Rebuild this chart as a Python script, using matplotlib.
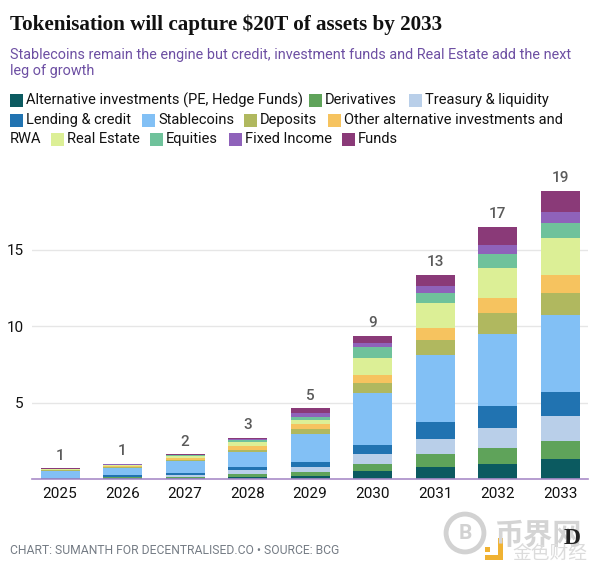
# encoding:utf-8
import numpy as np
import matplotlib.pyplot as plt
from matplotlib.patches import Rectangle, Circle

plt.rcParams['font.family'] = ['Roboto', 'Noto Sans CJK SC', 'DejaVu Sans']

years = ['2025', '2026', '2027', '2028', '2029', '2030', '2031', '2032', '2033']
totals = ['1', '1', '2', '3', '5', '9', '13', '17', '19']

alternative = [0.01, 0.06, 0.07, 0.12, 0.20, 0.54, 0.80, 1.00, 1.30]
derivatives = [0.01, 0.04, 0.07, 0.20, 0.26, 0.46, 0.83, 1.03, 1.20]
treasury = [0.01, 0.06, 0.09, 0.24, 0.33, 0.61, 0.98, 1.30, 1.60]
lending = [0.02, 0.07, 0.13, 0.24, 0.33, 0.61, 1.09, 1.44, 1.60]
stablecoins = [0.48, 0.48, 0.83, 0.98, 1.81, 3.38, 4.40, 4.73, 5.00]
deposits = [0.03, 0.06, 0.08, 0.10, 0.35, 0.69, 0.98, 1.35, 1.45]
other_alt = [0.04, 0.08, 0.12, 0.28, 0.31, 0.50, 0.78, 0.98, 1.20]
real_estate = [0.03, 0.06, 0.10, 0.24, 0.26, 1.13, 1.63, 1.98, 2.40]
equities = [0.02, 0.03, 0.05, 0.13, 0.20, 0.68, 0.67, 0.90, 1.00]
fixed_income = [0.02, 0.03, 0.04, 0.09, 0.28, 0.30, 0.44, 0.60, 0.72]
funds = [0.03, 0.04, 0.05, 0.09, 0.28, 0.46, 0.76, 1.18, 1.35]

series = [alternative, derivatives, treasury, lending, stablecoins, deposits,
          other_alt, real_estate, equities, fixed_income, funds]
colors = ['#0b5a60', '#5fa35a', '#b9cfe9', '#2173b1', '#82c0f5', '#b0b85f',
          '#f6c35f', '#dcef96', '#6fc29b', '#8f62ba', '#8a3a78']

W, H = 600, 571
fig = plt.figure(figsize=(W / 100, H / 100), dpi=100)


def put(px, py, s, **kw):
    kw.setdefault('va', 'center')
    return fig.text(px / W, 1 - py / H, s, **kw)


def box(px, py, w, h, color, **kw):
    fig.add_artist(Rectangle((px / W, 1 - (py + h) / H), w / W, h / H, color=color,
                             transform=fig.transFigure, lw=0, **kw))


# plot area, 15.3 px per unit
ax = fig.add_axes([32 / W, 1 - 479 / H, 556 / W, 309 / H])
x = np.arange(len(years))
bottom = np.zeros(len(years))
for vals, c in zip(series, colors):
    ax.bar(x, vals, 0.624, bottom=bottom, color=c, zorder=3)
    bottom += np.array(vals)
for xi, top, t in zip(x, bottom, totals):
    ax.annotate(t, (xi, top), xytext=(0, 4), textcoords='offset points', ha='center',
                va='bottom', fontsize=11, color='#5a5a5a', fontweight='medium')

ax.set_xlim(-0.448, 8.448)
ax.set_ylim(0, 309 / 15.3)
ax.set_xticks(x, years)
ax.set_yticks([5, 10, 15])
ax.tick_params(length=0, labelsize=11, labelcolor='#111111')
ax.tick_params(axis='x', pad=6)
ax.tick_params(axis='y', pad=6)
ax.grid(axis='y', color='#e6e6e6', lw=1, zorder=0)
for s in ['top', 'left', 'right']:
    ax.spines[s].set_visible(False)
ax.spines['bottom'].set_color('#a98cc8')
ax.spines['bottom'].set_linewidth(1.2)
ax.spines['bottom'].set_zorder(4)

put(10, 25, 'Tokenisation will capture $20T of assets by 2033', family='Liberation Serif',
    fontweight='bold', fontsize=15.2, color='#111111')
put(10, 55, 'Stablecoins remain the engine but credit, investment funds and Real Estate add the next',
    fontsize=10.4, color='#6d4fa3')
put(10, 71, 'leg of growth', fontsize=10.4, color='#6d4fa3')

# legend wraps like html text, so it is placed by hand
legend = [
    (10, 100, 0, 'Alternative investments (PE, Hedge Funds)'),
    (309, 100, 1, 'Derivatives'),
    (409, 100, 2, 'Treasury & liquidity'),
    (10, 120, 3, 'Lending & credit'),
    (142, 120, 4, 'Stablecoins'),
    (244, 120, 5, 'Deposits'),
    (328, 120, 6, 'Other alternative investments and'),
    (51, 139, 7, 'Real Estate'),
    (150, 139, 8, 'Equities'),
    (229, 139, 9, 'Fixed Income'),
    (342, 139, 10, 'Funds'),
]
for px, py, i, label in legend:
    box(px, py - 6.5, 13, 13, colors[i])
    put(px + 16, py, label, fontsize=10.5, color='#111111')
put(10, 139, 'RWA', fontsize=10.5, color='#111111')

put(10, 551, 'CHART: SUMANTH FOR DECENTRALISED.CO • SOURCE: BCG', fontsize=8.7, color='#757c85')

# watermark
ring = fig.add_axes([443 / W, 1 - 555 / H, 44 / W, 44 / H], zorder=5)
ring.set_xlim(-1, 1)
ring.set_ylim(-1, 1)
ring.axis('off')
ring.add_patch(Circle((0, 0), 0.86, fill=False, ec='#d2d2d2', lw=3.5))
ring.text(0, -0.03, 'B', ha='center', va='center', fontsize=15, fontweight='bold', color='#d2d2d2')
put(494, 536, '币界网', fontsize=21, color='#d4d4d4', fontweight='bold', zorder=6)
put(512, 554, '金色财经', fontsize=13.5, color='#dcdcdc', zorder=6)
box(485, 555, 18, 5, '#f0b232', zorder=6)
box(498, 538, 5, 22, '#f0b232', zorder=6)
box(485, 547, 5, 5, '#f0b232', zorder=6)
put(572, 538, 'D', family='Liberation Serif', fontsize=17, fontweight='bold', color='#222222',
    ha='center', zorder=7)

fig.savefig('out.png', dpi=100)
